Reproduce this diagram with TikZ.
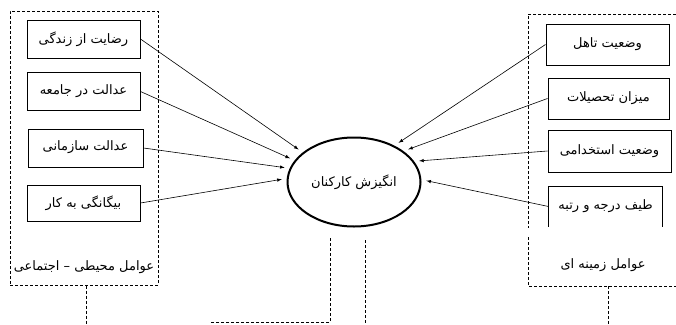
\documentclass[tikz,border=0pt]{standalone}
\usepackage{fontspec}
\usetikzlibrary{shapes.geometric,arrows}
\newfontfamily\farsi[Script=Arabic]{DejaVu Sans}
\TeXXeTstate=1
\newcommand{\rtltext}[1]{\beginR #1\endR}

\begin{document}
\begin{tikzpicture}[
  x=1pt, y=-1pt,
  font=\farsi\fontsize{13}{15}\selectfont,
  factor/.style={rectangle, draw, line width=1pt, minimum width=113pt,
                 minimum height=38pt, inner sep=2pt},
  group/.style={line width=1pt, dash pattern=on 3pt off 2pt},
  goal/.style={ellipse, draw, line width=2pt, minimum width=133pt,
               minimum height=89pt, inner sep=0pt},
  link/.style={-latex, line width=0.6pt, shorten >=5pt}
]
\useasboundingbox (0,0) rectangle (676,324);
% social and environmental factors
\node[draw, group, minimum width=148pt, minimum height=274pt] (social) at (84,148) {};
\node[factor] (life)    at (83.5,39)  {\rtltext{رضایت از زندگی}};
\node[factor] (society) at (83.5,91.5){\raisebox{3pt}{\rtltext{عدالت در جامعه}}};
\node[factor, minimum width=115pt] (org) at (85.5,148) {\raisebox{4pt}{\rtltext{عدالت سازمانی}}};
\node[factor, minimum height=36pt] (alien) at (83.5,203) {\rtltext{بیگانگی به کار}};
\node (sociallabel) at (84,267) {\rtltext{عوامل محیطی – اجتماعی}};
% background factors
\coordinate (ctxtop) at (676,14);
\coordinate (ctxbot) at (676,286);
\draw[group] (ctxtop) -| (528,228);
\draw[group] (528,237) |- (ctxbot);
\node[factor, minimum width=123pt, minimum height=41pt] (marital) at (607.5,44.5) {\rtltext{وضعیت تاهل}};
\node[factor, minimum width=121pt, minimum height=41pt] (edu)     at (608.5,98.5) {\rtltext{میزان تحصیلات}};
\node[factor, minimum width=123pt, minimum height=42pt] (job)     at (609.5,151)  {\rtltext{وضعیت استخدامی}};
\node[factor, draw=none, minimum height=39pt] (rank) at (605.5,206.5) {\rtltext{طیف درجه و رتبه}};
\draw[line width=1pt] (rank.south west) |- (rank.north east) -- (rank.south east);
\node (ctxlabel) at (603,265) {\rtltext{عوامل زمینه ای}};
% motivation
\node[goal] (motiv) at (354,182) {\raisebox{3pt}{\rtltext{انگیزش کارکنان}}};
\draw[link] (life.east)    -- (motiv.150);
\draw[link] (society.east) -- (motiv.160);
\draw[link] (org.east)     -- (motiv.168);
\draw[link] (alien.east)   -- (motiv.177);
\draw[link] (marital.west) -- (motiv.42);
\draw[link] (edu.west)     -- (motiv.32);
\draw[link] (job.west)     -- (motiv.19);
\draw[link] (rank.west)    -- (motiv.2);
% lines to the bottom
\coordinate (sdown) at (86,324);
\coordinate (mdownl) at (330,238);
\coordinate (mleft)  at (210,322);
\coordinate (mdownr) at (365,240);
\coordinate (mend)   at (365,324);
\coordinate (cdown)  at (608,324);
\draw[group] (sdown |- social.south) -- (sdown);
\draw[group] (mdownl) |- (mleft);
\draw[group] (mdownr) -- (mend);
\draw[group] (cdown |- ctxbot) -- (cdown);
\end{tikzpicture}
\end{document}
